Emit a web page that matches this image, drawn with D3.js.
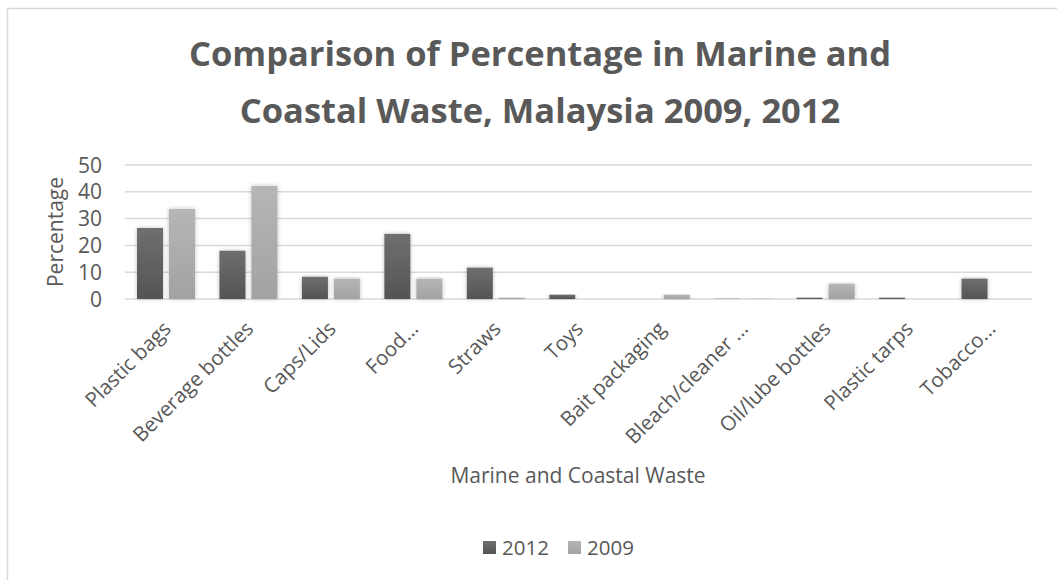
<!DOCTYPE html>
<html>
<head>
<meta charset="utf-8">
<script src="https://cdn.jsdelivr.net/npm/d3@7"></script>
<style>
  body { margin: 0; background: #fff; }
  svg text { font-family: "Open Sans", sans-serif; fill: #595959; }
</style>
</head>
<body>
<svg id="chart" width="1057" height="580"></svg>
<script>
// categories and values
const categories = ["Plastic bags", "Beverage bottles", "Caps/Lids", "Food...", "Straws", "Toys",
  "Bait packaging", "Bleach/cleaner ...", "Oil/lube bottles", "Plastic tarps", "Tobacco..."];
const series = ["2012", "2009"];
const values2012 = [26.5, 18.0, 8.3, 24.3, 11.7, 1.6, 0, 0.1, 0.5, 0.5, 7.6];
const values2009 = [33.6, 42.2, 7.6, 7.6, 0.5, 0, 1.6, 0.1, 5.7, 0, 0];
const yTicks = [0, 10, 20, 30, 40, 50];
const titleLines = ["Comparison of Percentage in Marine and", "Coastal Waste, Malaysia 2009, 2012"];

const svg = d3.select("#chart");

// gradients for excel-like shading
const defs = svg.append("defs");
function grad(id, top, bottom) {
  const g = defs.append("linearGradient").attr("id", id)
    .attr("x1", 0).attr("y1", 0).attr("x2", 0).attr("y2", 1);
  g.append("stop").attr("offset", "0%").attr("stop-color", top);
  g.append("stop").attr("offset", "100%").attr("stop-color", bottom);
}
grad("g2012", "#6f6f6f", "#545454");
grad("g2009", "#b6b6b6", "#a2a2a2");
const f = defs.append("filter").attr("id", "shadow")
  .attr("x", "-30%").attr("y", "-10%").attr("width", "160%").attr("height", "130%");
f.append("feDropShadow").attr("dx", 0).attr("dy", 0).attr("stdDeviation", 2)
  .attr("flood-color", "#000").attr("flood-opacity", 0.25);

// chart border
svg.append("rect").attr("x", 7.5).attr("y", 8.5).attr("width", 1060).attr("height", 600)
  .attr("fill", "none").attr("stroke", "#d9d9d9").attr("stroke-width", 1.5);

// title
svg.append("text")
  .attr("x", 540).attr("y", 66)
  .attr("text-anchor", "middle")
  .style("font-size", "34.5px").style("font-weight", "bold")
  .selectAll("tspan").data(titleLines).join("tspan")
  .attr("x", 540).attr("dy", (d, i) => i == 0 ? 0 : 57)
  .text(d => d);

const x0 = d3.scaleBand().domain(categories).range([125, 1032]);
const x1 = d3.scaleBand().domain(series).range([12, 70]).paddingInner(0.1875);
const y = d3.scaleLinear().domain([0, 50]).range([299, 165]);

// gridlines
svg.append("g").selectAll("line").data(yTicks).join("line")
  .attr("x1", 125).attr("x2", 1032)
  .attr("y1", d => y(d)).attr("y2", d => y(d))
  .attr("stroke", "#d9d9d9").attr("stroke-width", 1.5);

// y tick labels
svg.append("g").selectAll("text").data(yTicks).join("text")
  .attr("x", 102).attr("y", d => y(d))
  .attr("dy", "0.36em")
  .attr("text-anchor", "end")
  .style("font-size", "21px")
  .text(d => d);

// y title
svg.append("text")
  .attr("transform", "translate(63,232) rotate(-90)")
  .attr("text-anchor", "middle")
  .style("font-size", "21px")
  .text("Percentage");

// bars
const data = categories.map((c, i) => ({ cat: c, vals: [
  { s: "2012", v: values2012[i] }, { s: "2009", v: values2009[i] }] }));

const groups = svg.append("g").selectAll("g").data(data).join("g")
  .attr("transform", d => "translate(" + x0(d.cat) + ",0)");
groups.selectAll("rect").data(d => d.vals.filter(e => e.v > 0)).join("rect")
  .attr("x", d => x1(d.s))
  .attr("width", x1.bandwidth())
  .attr("y", d => y(d.v))
  .attr("height", d => y(0) - y(d.v))
  .attr("fill", d => d.s == "2012" ? "url(#g2012)" : "url(#g2009)")
  .attr("filter", "url(#shadow)");

// x labels
svg.append("g").selectAll("text").data(categories).join("text")
  .attr("transform", d => "translate(" + (x0(d) + x0.bandwidth() / 2 + 6) + ",330) rotate(-45)")
  .attr("text-anchor", "end")
  .style("font-size", "20.5px")
  .text(d => d);

// x title
svg.append("text")
  .attr("x", 578).attr("y", 483)
  .attr("text-anchor", "middle")
  .style("font-size", "21px")
  .text("Marine and Coastal Waste");

// legend
const legend = svg.append("g").selectAll("g").data(series).join("g")
  .attr("transform", (d, i) => "translate(" + (483 + i * 85) + ",541)");
legend.append("rect").attr("width", 13).attr("height", 13)
  .attr("fill", d => d == "2012" ? "url(#g2012)" : "url(#g2009)");
legend.append("text").attr("x", 19).attr("y", 13.5)
  .style("font-size", "20.5px")
  .text(d => d);
</script>
</body>
</html>
